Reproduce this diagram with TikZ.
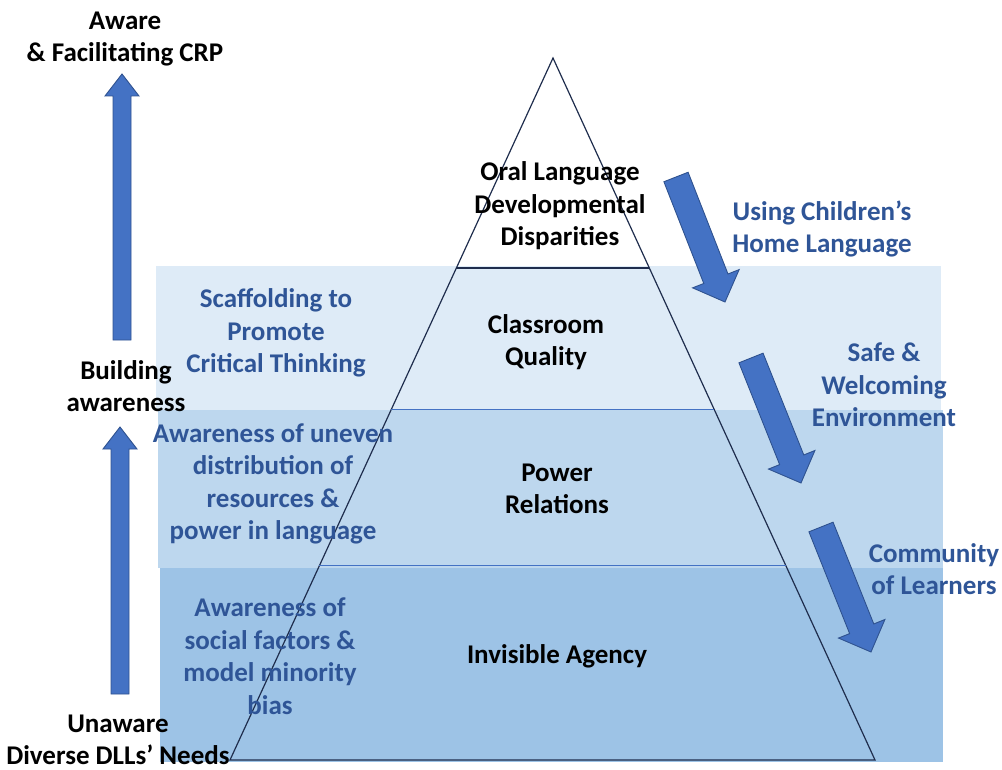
\documentclass[tikz,border=0pt]{standalone}
\usepackage{fontspec}
\setmainfont{Carlito}
\usetikzlibrary{calc}

\definecolor{bandlight}{HTML}{DEEBF7}
\definecolor{bandmid}{HTML}{BDD7EE}
\definecolor{banddark}{HTML}{9DC3E6}
\definecolor{arrowfill}{HTML}{4472C4}
\definecolor{arrowline}{HTML}{2F528F}
\definecolor{labelblue}{HTML}{2F5597}
\definecolor{pyrline}{HTML}{1F2D4D}
\definecolor{tierline}{HTML}{4472C4}

\tikzset{
  lbl/.style={font=\fontsize{27}{32.5}\selectfont\bfseries, align=center, inner sep=0pt},
  blacklbl/.style={lbl, text=black},
  bluelbl/.style={lbl, text=labelblue},
  arrowbody/.style={fill=arrowfill, draw=arrowline, line width=0.9pt, line join=miter},
  pyramidedge/.style={draw=pyrline, line width=1.2pt},
  tieredge/.style={draw=tierline, line width=1pt},
}

% block arrow: tail, tip, half shaft width, half head width, head length
\newcommand{\blockarrow}[5]{%
  \coordinate (ba-j) at ($(#2)!#5!(#1)$);
  \draw[arrowbody] ($(#1)!#3!90:(#2)$) -- ($(ba-j)!#3!90:(#2)$) -- ($(ba-j)!#4!90:(#2)$)
    -- (#2) -- ($(ba-j)!#4!-90:(#2)$) -- ($(ba-j)!#3!-90:(#2)$) -- ($(#1)!#3!-90:(#2)$) -- cycle;
}

\begin{document}
\begin{tikzpicture}[x=1pt,y=-1pt]
\useasboundingbox (0,0) rectangle (1002,770);

% background bands
\fill[bandlight] (156,266) rectangle (941,410);
\fill[bandmid]   (158,410) rectangle (943,568);
\fill[banddark]  (160,568) rectangle (943,762);

% pyramid and its tiers
\coordinate (apex) at (553,58);
\coordinate (baseL) at (230,760);
\coordinate (baseR) at (875,760);
\draw[pyramidedge] (apex) -- (baseR) -- (baseL) -- cycle;
\draw[pyramidedge] ($(apex)!0.2991!(baseL)$) -- ($(apex)!0.2991!(baseR)$);
\draw[tieredge] ($(apex)!0.5014!(baseL)$) -- ($(apex)!0.5014!(baseR)$);
\draw[tieredge] ($(apex)!0.7236!(baseL)$) -- ($(apex)!0.7236!(baseR)$);

% awareness arrows on the left
\coordinate (upA-tail) at (122,340);
\coordinate (upA-tip)  at (122,74);
\coordinate (upB-tail) at (120,694);
\coordinate (upB-tip)  at (120,427);
\blockarrow{upA-tail}{upA-tip}{9pt}{17pt}{22pt}
\blockarrow{upB-tail}{upB-tip}{9pt}{17pt}{22pt}

% practice arrows on the right
\coordinate (dnA-tail) at (676,177);
\coordinate (dnA-tip)  at (725,302);
\coordinate (dnB-tail) at (751,358);
\coordinate (dnB-tip)  at (801,483);
\coordinate (dnC-tail) at (821,527);
\coordinate (dnC-tip)  at (871,652);
\blockarrow{dnA-tail}{dnA-tip}{13pt}{25pt}{25pt}
\blockarrow{dnB-tail}{dnB-tip}{13pt}{25pt}{25pt}
\blockarrow{dnC-tail}{dnC-tip}{13pt}{25pt}{25pt}

% awareness stages
\node[blacklbl] (aware)    at (125,39)  {Aware\\\& Facilitating CRP};
\node[blacklbl] (building) at (126,386) {Building\\awareness};
\node[blacklbl] (unaware)  at (118,740) {Unaware\\Diverse DLLs’ Needs};

% strategies on the left
\node[bluelbl] (scaffold) at (276,333) {Scaffolding to\\Promote\\Critical Thinking};
\node[bluelbl] (uneven)   at (273,484) {Awareness of uneven\\distribution of\\resources \&\\power in language};
\node[bluelbl] (social)   at (270,656) {Awareness of\\social factors \&\\model minority\\bias};

% pyramid tiers
\node[blacklbl] (oral)      at (560,206) {Oral Language\\Developmental\\Disparities};
\node[blacklbl] (classroom) at (546,342) {Classroom\\Quality};
\node[blacklbl] (power)     at (557,489) {Power\\Relations};
\node[blacklbl] (agency)    at (557,656) {Invisible Agency};

% practices on the right
\node[bluelbl] (homelang)  at (822,229) {Using Children’s\\Home Language};
\node[bluelbl] (safe)      at (884,385) {Safe \&\\Welcoming\\Environment};
\node[bluelbl] (community) at (934,569) {Community\\of Learners};
\end{tikzpicture}
\end{document}
